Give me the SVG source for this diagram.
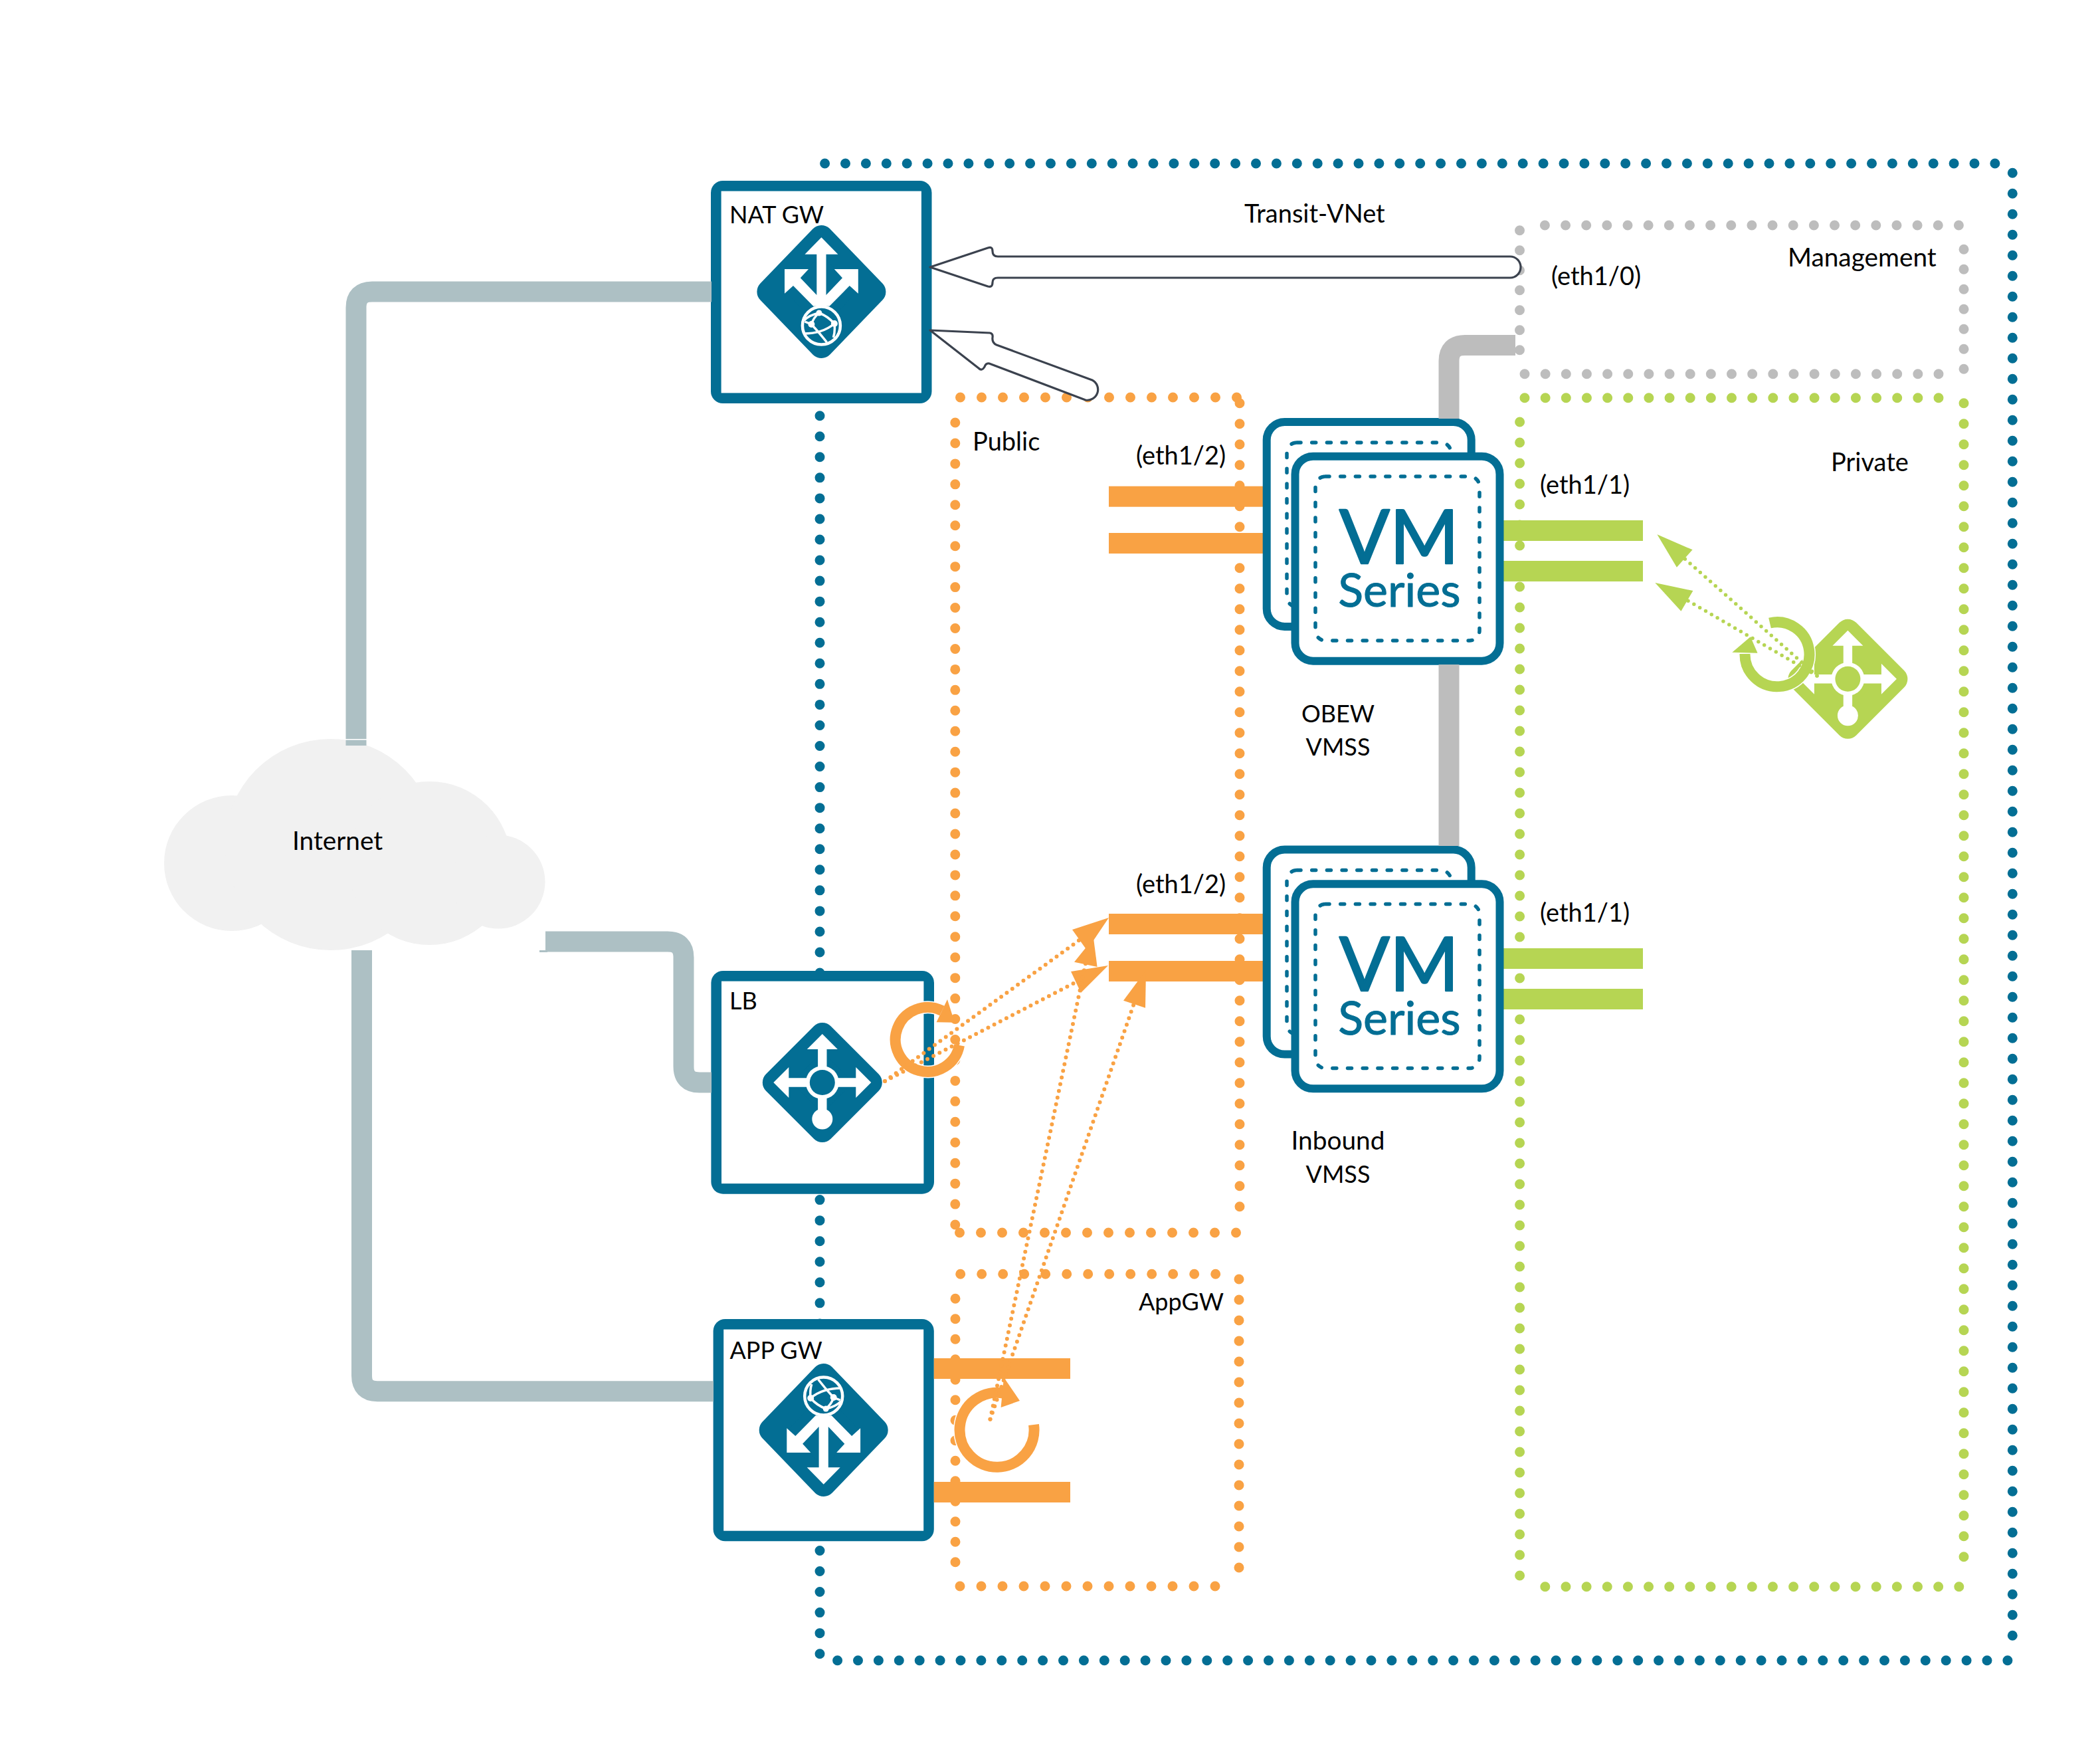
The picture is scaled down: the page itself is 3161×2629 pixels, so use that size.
<svg xmlns="http://www.w3.org/2000/svg" xmlns:xlink="http://www.w3.org/1999/xlink" width="3161" height="2629" viewBox="0 0 3161 2629">
<style>
text{font-family:"Lato","Liberation Sans",sans-serif;font-size:36px;fill:#000}
.t38{font-size:38px}
.t39{font-size:38.8px}
.mid{text-anchor:middle}
.bl{fill:#036e94}.wh{fill:#fff}.or{fill:#f9a244}.gr{fill:#b6d553}
.d{fill:none;stroke-linecap:round;stroke-width:15}
.dbl{stroke:#036e94}.dor{stroke:#f9a244}.dgr{stroke:#b6d553}.dgy{stroke:#bdbdbd}
.p31{stroke-dasharray:0 31}.p30{stroke-dasharray:0 30}.p32{stroke-dasharray:0 32}.h31{stroke-dasharray:0 31.15}.v305{stroke-dasharray:0 30.5}
.link{fill:none;stroke:#adc0c4;stroke-width:31}
.pipe{fill:none;stroke:#bdbdbd;stroke-width:31}
.vmb{fill:#fff;stroke:#036e94;stroke-width:12}
.vmd{fill:none;stroke:#036e94;stroke-width:5.5;stroke-linecap:round;stroke-dasharray:6 16.7}
.vmt{fill:#036e94;stroke:#036e94;stroke-linejoin:round;text-anchor:middle}
.arr{fill:#fff;stroke:#3b424e;stroke-width:3.2;stroke-linejoin:round}
.flowo{fill:none;stroke:#f9a244;stroke-width:6;stroke-linecap:round;stroke-dasharray:0 10.3}
.flowg{fill:none;stroke:#b6d553;stroke-width:5.5;stroke-linecap:round;stroke-dasharray:0 10.2}
.halo{fill:none;stroke:#fff;stroke-width:19}
.ringo{fill:none;stroke:#f9a244;stroke-width:16}
.ringg{fill:none;stroke:#b6d553;stroke-width:16}
.gl{fill:none;stroke:#fff;stroke-width:3.5}
</style>
<defs>
<g id="icon-gw">
<path d="M0 -82L79 0L0 82L-79 0Z" fill="#036e94" stroke="#036e94" stroke-width="36" stroke-linejoin="round"/>
<path class="wh" d="M0 -81.7L25 -56.3L7.1 -56.3L7.1 5L31.6 -20.7L19.4 -34L55.4 -34L55.4 2.7L42.4 -9L12.1 21.7L-12.1 21.7L-42.4 -9L-55.4 2.7L-55.4 -34L-19.4 -34L-31.6 -20.7L-7.1 5L-7.1 -56.3L-25 -56.3Z"/>
<g transform="translate(0 51)">
<circle r="28.5" fill="#036e94" stroke="#fff" stroke-width="4.5"/>
<path class="gl" d="M-26 -8Q-18 -16 -3.5 -19Q10 -14 19.5 -3Q21 8 18 18M-25 -6L-15 -2Q-2 12 8 25M-27 12Q2 12 19.5 -3M-15 -2Q-12 -12 -3.5 -19"/>
<circle class="wh" cx="-15" cy="-2" r="5"/><circle class="wh" cx="-3.5" cy="-19" r="4.5"/><circle class="wh" cx="19.5" cy="-3" r="5"/>
</g>
</g>
<g id="icon-lb">
<path d="M0 -72L72 0L0 72L-72 0Z" fill="currentColor" stroke="currentColor" stroke-width="36" stroke-linejoin="round"/>
<path class="wh" d="M0 -73L23 -50L6.7 -50L6.7 -6.7L50.5 -6.7L50.5 -23L73.5 0L50.5 23L50.5 6.7L6.7 6.7L6.7 50L-6.7 50L-6.7 6.7L-50.5 6.7L-50.5 23L-73.5 0L-50.5 -23L-50.5 -6.7L-6.7 -6.7L-6.7 -50L-23 -50Z"/>
<circle class="wh" r="25"/><circle r="19" fill="currentColor"/><circle class="wh" cy="55" r="15.5"/>
</g>
<g id="vm">
<rect class="vmb" x="1906.7" y="635" width="308" height="308" rx="27"/>
<rect class="vmd" x="1937" y="666" width="247" height="247" rx="15"/>
<rect class="vmb" x="1949.5" y="686.7" width="308" height="308" rx="27"/>
<rect class="vmd" x="1980" y="717" width="247" height="247" rx="15"/>
<text class="vmt" x="2106" y="847.7" style="font-size:112px" stroke-width="2.5">VM</text>
<text class="vmt" x="2106.5" y="913" style="font-size:70px" stroke-width="1">Series</text>
</g>
</defs>

<rect width="3161" height="2629" fill="#fff"/>

<g id="zones">
<g id="zone-transit">
<path class="d dbl" style="stroke-dasharray:0 30.9" d="M1241.6 246H3022"/>
<path class="d dbl p31" d="M3029.3 2461.3V254"/>
<path class="d dbl" style="stroke-dasharray:0 30.9" d="M3021.9 2498.7H1241"/>
<path class="d dbl" style="stroke-dasharray:0 31.05" d="M1234 625.7V2491"/>
<text class="t38" x="1873" y="335">Transit-VNet</text>
</g>
<g id="zone-management">
<path class="d dgy h31" d="M2325.4 339H2949"/>
<path class="d dgy p30" d="M2287.5 346.7V527"/>
<path class="d dgy p30" d="M2956 375.3V556"/>
<path class="d dgy h31" d="M2295 562.7H2919"/>
<text class="t39" x="2691" y="401">Management</text>
<text class="t38" x="2335" y="429">(eth1/0)</text>
</g>
<g id="zone-private">
<path class="d dgr h31" d="M2295 598.7H2919"/>
<path class="d dgr p31" d="M2956 606.7V2351"/>
<path class="d dgr p31" d="M2287.6 635V2381"/>
<path class="d dgr h31" d="M2325.8 2387.7H2949"/>
<text class="t38" x="2756" y="709">Private</text>
</g>
<g id="zone-public">
<path class="d dor p32" d="M1445.5 598H1862"/>
<path class="d dor p31" d="M1866 606.7V1839"/>
<path class="d dor" style="stroke-dasharray:0 30.95" d="M1437.8 636V1847"/>
<path class="d dor p32" d="M1444.5 1855H1861"/>
<text class="t38" x="1464" y="678">Public</text>
</g>
<g id="zone-appgw">
<path class="d dor p32" d="M1445.7 1917.3H1830"/>
<path class="d dor p31" d="M1865 1925V2381"/>
<path class="d dor v305" d="M1438 1954.3V2381"/>
<path class="d dor p32" d="M1445 2387H1861"/>
<text x="1714" y="1972">AppGW</text>
</g>
</g>

<g id="internet">
<circle cx="349" cy="1299" r="102" fill="#f1f1f1"/>
<circle cx="497.6" cy="1271" r="159" fill="#f1f1f1"/>
<circle cx="646.5" cy="1299" r="123" fill="#f1f1f1"/>
<circle cx="750" cy="1327" r="70.5" fill="#f1f1f1"/>
<text class="t39" x="440" y="1279">Internet</text>
</g>

<g id="nat-gw">
<rect class="bl" x="1070" y="272" width="332.5" height="335" rx="18"/>
<rect class="wh" x="1085.6" y="287.6" width="301.3" height="303.8"/>
<use xlink:href="#icon-gw" href="#icon-gw" transform="translate(1236.4 439)"/>
<text x="1098" y="336">NAT GW</text>
</g>

<g id="lb">
<rect class="bl" x="1070.4" y="1461" width="335.6" height="335.7" rx="18"/>
<rect class="wh" x="1086" y="1476.6" width="304.4" height="304.5"/>
<use xlink:href="#icon-lb" href="#icon-lb" transform="translate(1237.8 1629)" style="color:#036e94"/>
<text x="1098" y="1519">LB</text>
</g>

<g id="app-gw">
<rect class="bl" x="1073.6" y="1985" width="332.2" height="334.3" rx="18"/>
<rect class="wh" x="1089.2" y="2000.6" width="301" height="303.1"/>
<use xlink:href="#icon-gw" href="#icon-gw" transform="translate(1239.7 2152) rotate(180)"/>
<text x="1098.5" y="2045">APP GW</text>
<rect class="or" x="1405.8" y="2044" width="205.2" height="31"/>
<rect class="or" x="1405.8" y="2230" width="205.2" height="31"/>
</g>

<g id="obew-vmss">
<rect class="or" x="1669" y="731.7" width="235" height="31"/>
<rect class="or" x="1669" y="802" width="235" height="31"/>
<rect class="gr" x="2260" y="783" width="213" height="31"/>
<rect class="gr" x="2260" y="844" width="213" height="31"/>
<use xlink:href="#vm" href="#vm"/>
<text class="t38" x="1710" y="699">(eth1/2)</text>
<text class="t38" x="2318" y="743">(eth1/1)</text>
<text class="mid" x="2014" y="1087">OBEW</text>
<text class="mid" x="2014" y="1137">VMSS</text>
</g>

<g id="inbound-vmss">
<rect class="or" x="1669" y="1375" width="235" height="31"/>
<rect class="or" x="1669" y="1446" width="235" height="31"/>
<rect class="gr" x="2260" y="1427" width="213" height="31"/>
<rect class="gr" x="2260" y="1488" width="213" height="31"/>
<use xlink:href="#vm" href="#vm" transform="translate(0 643.6)"/>
<text class="t38" x="1710" y="1344">(eth1/2)</text>
<text class="t38" x="2318" y="1387">(eth1/1)</text>
<text class="mid t39" x="2014" y="1730">Inbound</text>
<text class="mid" x="2014" y="1780">VMSS</text>
</g>

<g id="private-lb">
<use xlink:href="#icon-lb" href="#icon-lb" transform="translate(2781.4 1021.8)" style="color:#b6d553"/>
</g>

<g id="connectors">
<path class="link" d="M536 1122V463Q536 439 560 439H1071"/>
<rect class="wh" x="520" y="1112" width="32" height="1.6"/>
<path class="link" d="M544.5 1430V2070Q544.5 2093.7 568 2093.7H1074"/>
<path class="link" d="M821 1417H1005Q1029 1417 1029 1441V1605Q1029 1629 1053 1629H1071"/>
<rect x="812" y="1430" width="12" height="3" fill="#adc0c4"/>
<path class="pipe" d="M2281 519.5H2205Q2181 519.5 2181 543.5V630M2181 1000V1273"/>

<path class="arr" d="M1400 402L1487 373Q1494 370.500 1494 378Q1494 386 1502 386H2273A16 16 0 0 1 2273 418H1502Q1494 418 1494 425Q1494 433 1487 431Z"/>
<path class="arr" d="M1400 497L1490 501Q1495 502 1494 508Q1493 516 1500 519L1644 572A16 16 0 0 1 1634 602L1489 547Q1484 546 1482 552Q1478 559 1473 554Z"/>

<path class="halo" d="M1444 1573A48.500 48.500 0 1 1 1418 1521"/>
<path class="ringo" d="M1444 1573A48.500 48.500 0 1 1 1418 1521"/>
<path class="or" d="M1426 1504L1437 1538.700L1409.600 1538.300Z"/>
<path class="flowo" d="M1332 1627L1625 1414.500"/>
<path class="flowo" d="M1332 1627L1619.500 1478"/>
<path class="or" d="M1669 1381L1614 1399L1636 1430Z"/>
<path class="or" d="M1646 1411.700L1617 1447.700L1651.600 1455Z"/>
<path class="or" d="M1668 1453L1612 1462L1627 1494Z"/>

<path class="halo" d="M1556 2144A56 56 0 1 1 1512 2097"/>
<path class="ringo" d="M1556 2144A56 56 0 1 1 1512 2097"/>
<path class="or" d="M1535 2108L1511 2072.700L1506.600 2118Z"/>
<path class="flowo" d="M1490.500 2135.700L1634 1450"/>
<path class="flowo" d="M1490.500 2135.700L1707 1510"/>
<path class="or" d="M1725 1460L1691 1505.700L1724 1516.700Z"/>

<path class="halo" d="M2664 937.500A48.500 48.500 0 1 1 2626.500 984"/>
<path class="ringg" d="M2664 937.500A48.500 48.500 0 1 1 2626.500 984"/>
<path class="gr" d="M2634.900 958.300L2607.300 981.700L2645.600 982.700Z"/>
<path class="flowg" d="M2735 1017L2535 840"/>
<path class="flowg" d="M2735 1017L2539 903"/>
<path class="gr" d="M2494.400 804.300L2547.600 827.300L2523.900 853.700Z"/>
<path class="gr" d="M2491.300 877L2548.400 889L2530.400 919.700Z"/>
</g>
</svg>
